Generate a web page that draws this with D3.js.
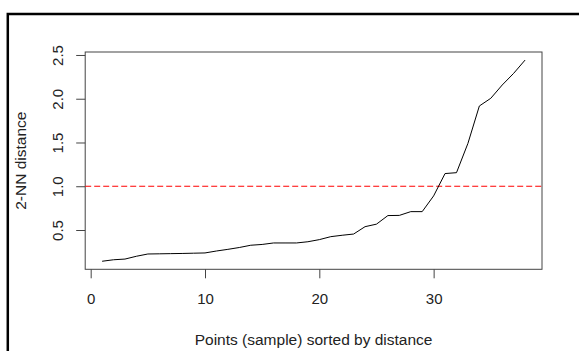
<!DOCTYPE html>
<html>
<head>
<meta charset="utf-8">
<script src="https://cdn.jsdelivr.net/npm/d3@7"></script>
<style>
body { margin: 0; background: #fff; }
text { font-family: "Liberation Sans", Arial, sans-serif; }
</style>
</head>
<body>
<script>
// sorted 2-NN distances
var pointIdx = d3.range(1, 39);
var knnDist = [0.143, 0.16, 0.168, 0.2, 0.226, 0.228, 0.23, 0.232, 0.235, 0.238,
	0.26, 0.279, 0.30, 0.326, 0.335, 0.352, 0.352, 0.352, 0.366, 0.39,
	0.424, 0.44, 0.454, 0.538, 0.567, 0.665, 0.667, 0.71, 0.71, 0.89,
	1.145, 1.155, 1.49, 1.917, 2.005, 2.157, 2.29, 2.442];
var xTicks = [0, 10, 20, 30];
var yTicks = [0.5, 1.0, 1.5, 2.0, 2.5];
var cutoff = 1.0;

// R style range with 4% padding
pad = function(lo, hi){
	var d = (hi - lo) * 0.04;
	return [lo - d, hi + d];
};

var W = 579, H = 351;
var box = {left: 85.2, right: 542, top: 52, bottom: 269.3};

var svg = d3.select("body").append("svg")
	.attr("width", W)
	.attr("height", H);

var x = d3.scaleLinear().domain(pad(d3.min(pointIdx), d3.max(pointIdx))).range([box.left, box.right]);
var y = d3.scaleLinear().domain(pad(d3.min(knnDist), d3.max(knnDist))).range([box.bottom, box.top]);

// outer frame (top + left edges only visible)
svg.append("path")
	.attr("d", "M7.8," + H + "V14H" + W)
	.attr("fill", "none")
	.attr("stroke", "#000")
	.attr("stroke-width", 2.5);

// axes
var xAxis = svg.append("g")
	.attr("transform", "translate(0," + box.bottom + ")")
	.call(d3.axisBottom(x).tickValues(xTicks).tickSize(9).tickSizeOuter(0).tickPadding(15));
xAxis.select(".domain").remove();
xAxis.selectAll("line").attr("stroke", "#444");
xAxis.selectAll("text").attr("font-size", 15).attr("fill", "#222")
	.attr("font-family", "Liberation Sans, Arial, sans-serif");

var yAxis = svg.append("g")
	.attr("transform", "translate(" + box.left + ",0)")
	.call(d3.axisLeft(y).tickValues(yTicks).tickFormat(d3.format(".1f")).tickSize(9).tickSizeOuter(0));
yAxis.select(".domain").remove();
yAxis.selectAll("line").attr("stroke", "#444");
yAxis.selectAll("text")
	.attr("font-size", 15).attr("fill", "#222")
	.attr("font-family", "Liberation Sans, Arial, sans-serif")
	.attr("x", null).attr("dy", null)
	.attr("text-anchor", "middle")
	.attr("transform", "translate(-22,0) rotate(-90)");

// plot box
svg.append("rect")
	.attr("x", box.left).attr("y", box.top)
	.attr("width", box.right - box.left)
	.attr("height", box.bottom - box.top)
	.attr("fill", "none")
	.attr("stroke", "#444")
	.attr("stroke-width", 1);

// abline
svg.append("line")
	.attr("x1", box.left).attr("x2", box.right)
	.attr("y1", y(cutoff)).attr("y2", y(cutoff))
	.attr("stroke", "#ff0000")
	.attr("stroke-width", 1.2)
	.attr("stroke-dasharray", "6,3");

// the curve
var line = d3.line()
	.x(function(d, i){ return x(pointIdx[i]); })
	.y(function(d){ return y(d); });
svg.append("path")
	.datum(knnDist)
	.attr("d", line)
	.attr("fill", "none")
	.attr("stroke", "#000")
	.attr("stroke-width", 1);

// labels
svg.append("text")
	.attr("x", (box.left + box.right) / 2)
	.attr("y", 345)
	.attr("text-anchor", "middle")
	.attr("font-size", 15.5)
	.attr("fill", "#222")
	.text("Points (sample) sorted by distance");

svg.append("text")
	.attr("transform", "translate(26," + ((box.top + box.bottom) / 2) + ") rotate(-90)")
	.attr("text-anchor", "middle")
	.attr("font-size", 15.5)
	.attr("fill", "#222")
	.text("2-NN distance");
</script>
</body>
</html>
